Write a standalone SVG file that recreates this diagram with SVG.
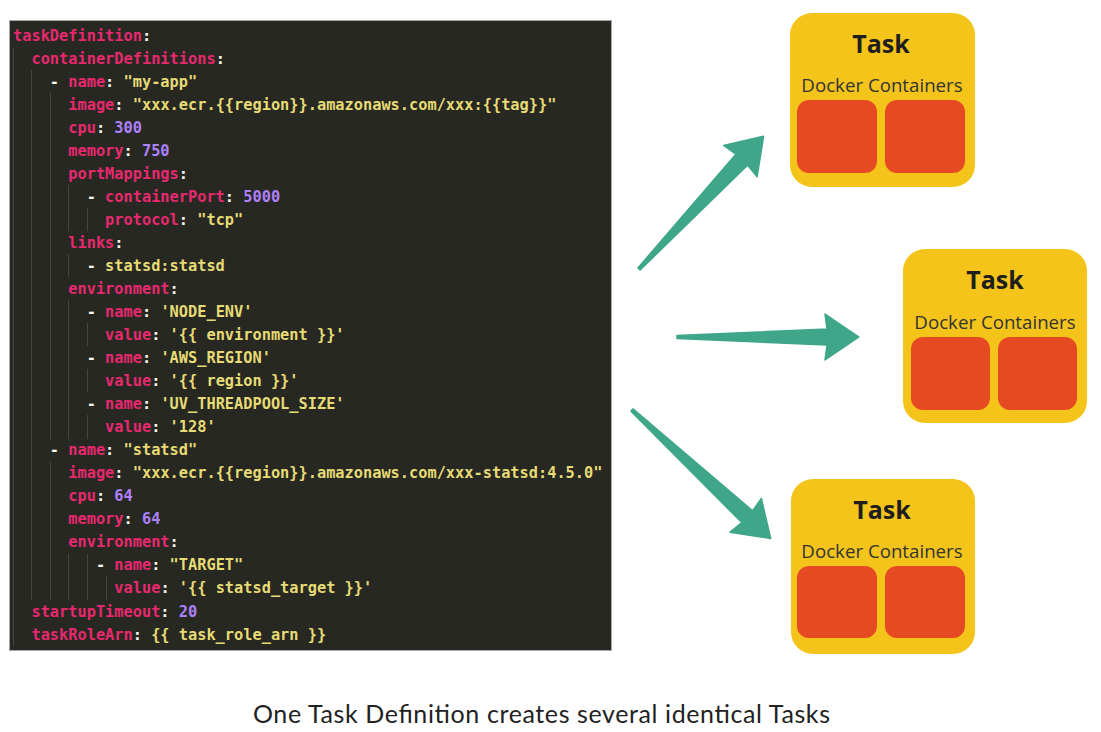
<svg xmlns="http://www.w3.org/2000/svg" width="1101" height="732" viewBox="0 0 1101 732">
<style>
.code text{font-family:"DejaVu Sans Mono","Liberation Mono",monospace;font-size:15.3px;font-weight:bold;white-space:pre;fill:#f8f8f2}
.k{fill:#e8286f}.s{fill:#e6db74}.n{fill:#ae81ff}.p{fill:#f8f8f2}
.guide{stroke:#45463f;stroke-width:1}
.task{fill:#f5c41b}
.ctr{fill:#e64a22}
.t1{font-family:"Open Sans","Noto Sans",sans-serif;font-weight:bold;font-size:25px;fill:#1e1e1e;text-anchor:middle}
.t2{font-family:"Open Sans","Noto Sans",sans-serif;font-size:18.7px;fill:#333;text-anchor:middle}
.arrow{fill:#3fa68a;stroke:#3fa68a;stroke-width:1.5;stroke-linejoin:round}
.cap{font-family:Lato,"Open Sans",sans-serif;font-size:25px;fill:#222}
</style>
<rect width="1101" height="732" fill="#ffffff"/>
<g id="code" class="code">
<rect x="9.5" y="20.5" width="602" height="630" fill="#272822" stroke="#a8a8a8" stroke-width="1"/>
<g id="guides">
<line class="guide" x1="13.5" y1="47" x2="13.5" y2="646"/>
<line class="guide" x1="31.5" y1="70" x2="31.5" y2="600"/>
<line class="guide" x1="50.5" y1="93" x2="50.5" y2="439"/>
<line class="guide" x1="50.5" y1="462" x2="50.5" y2="600"/>
<line class="guide" x1="68.5" y1="185" x2="68.5" y2="231"/>
<line class="guide" x1="68.5" y1="254" x2="68.5" y2="277"/>
<line class="guide" x1="68.5" y1="300" x2="68.5" y2="439"/>
<line class="guide" x1="68.5" y1="554" x2="68.5" y2="600"/>
<line class="guide" x1="87.5" y1="208" x2="87.5" y2="231"/>
<line class="guide" x1="87.5" y1="323" x2="87.5" y2="346"/>
<line class="guide" x1="87.5" y1="369" x2="87.5" y2="392"/>
<line class="guide" x1="87.5" y1="415" x2="87.5" y2="439"/>
<line class="guide" x1="87.5" y1="554" x2="87.5" y2="600"/>
<line class="guide" x1="106.5" y1="577" x2="106.5" y2="600"/>
</g>
<text x="13" y="40.5"><tspan class="k">taskDefinition</tspan><tspan class="p">:</tspan></text>
<text x="13" y="63.5">  <tspan class="k">containerDefinitions</tspan><tspan class="p">:</tspan></text>
<text x="13" y="86.6">    <tspan class="p">- </tspan><tspan class="k">name</tspan><tspan class="p">: </tspan><tspan class="s">"my-app"</tspan></text>
<text x="13" y="109.6">      <tspan class="k">image</tspan><tspan class="p">: </tspan><tspan class="s">"xxx.ecr.{{region}}.amazonaws.com/xxx:{{tag}}"</tspan></text>
<text x="13" y="132.7">      <tspan class="k">cpu</tspan><tspan class="p">: </tspan><tspan class="n">300</tspan></text>
<text x="13" y="155.7">      <tspan class="k">memory</tspan><tspan class="p">: </tspan><tspan class="n">750</tspan></text>
<text x="13" y="178.7">      <tspan class="k">portMappings</tspan><tspan class="p">:</tspan></text>
<text x="13" y="201.8">        <tspan class="p">- </tspan><tspan class="k">containerPort</tspan><tspan class="p">: </tspan><tspan class="n">5000</tspan></text>
<text x="13" y="224.8">          <tspan class="k">protocol</tspan><tspan class="p">: </tspan><tspan class="s">"tcp"</tspan></text>
<text x="13" y="247.9">      <tspan class="k">links</tspan><tspan class="p">:</tspan></text>
<text x="13" y="270.9">        <tspan class="p">- </tspan><tspan class="s">statsd:statsd</tspan></text>
<text x="13" y="293.9">      <tspan class="k">environment</tspan><tspan class="p">:</tspan></text>
<text x="13" y="317">        <tspan class="p">- </tspan><tspan class="k">name</tspan><tspan class="p">: </tspan><tspan class="s">'NODE_ENV'</tspan></text>
<text x="13" y="340">          <tspan class="k">value</tspan><tspan class="p">: </tspan><tspan class="s">'{{ environment }}'</tspan></text>
<text x="13" y="363">        <tspan class="p">- </tspan><tspan class="k">name</tspan><tspan class="p">: </tspan><tspan class="s">'AWS_REGION'</tspan></text>
<text x="13" y="386.1">          <tspan class="k">value</tspan><tspan class="p">: </tspan><tspan class="s">'{{ region }}'</tspan></text>
<text x="13" y="409.1">        <tspan class="p">- </tspan><tspan class="k">name</tspan><tspan class="p">: </tspan><tspan class="s">'UV_THREADPOOL_SIZE'</tspan></text>
<text x="13" y="432.2">          <tspan class="k">value</tspan><tspan class="p">: </tspan><tspan class="s">'128'</tspan></text>
<text x="13" y="455.2">    <tspan class="p">- </tspan><tspan class="k">name</tspan><tspan class="p">: </tspan><tspan class="s">"statsd"</tspan></text>
<text x="13" y="478.2">      <tspan class="k">image</tspan><tspan class="p">: </tspan><tspan class="s">"xxx.ecr.{{region}}.amazonaws.com/xxx-statsd:4.5.0"</tspan></text>
<text x="13" y="501.3">      <tspan class="k">cpu</tspan><tspan class="p">: </tspan><tspan class="n">64</tspan></text>
<text x="13" y="524.3">      <tspan class="k">memory</tspan><tspan class="p">: </tspan><tspan class="n">64</tspan></text>
<text x="13" y="547.4">      <tspan class="k">environment</tspan><tspan class="p">:</tspan></text>
<text x="13" y="570.4">         <tspan class="p">- </tspan><tspan class="k">name</tspan><tspan class="p">: </tspan><tspan class="s">"TARGET"</tspan></text>
<text x="13" y="593.4">           <tspan class="k">value</tspan><tspan class="p">: </tspan><tspan class="s">'{{ statsd_target }}'</tspan></text>
<text x="13" y="616.5">  <tspan class="k">startupTimeout</tspan><tspan class="p">: </tspan><tspan class="n">20</tspan></text>
<text x="13" y="639.5">  <tspan class="k">taskRoleArn</tspan><tspan class="p">: </tspan><tspan class="s">{{ task_role_arn }}</tspan></text>
</g>
<g id="connectors">
<path class="arrow" transform="translate(639,269) rotate(-46.8)" d="M0,-1.5 L150,-8 L148,-23 L182,0 L148,23 L150,8 L0,1.5 Z"/>
<path class="arrow" transform="translate(677,337)" d="M0,-1.5 L150,-8 L148,-23 L182,0 L148,23 L150,8 L0,1.5 Z"/>
<path class="arrow" transform="translate(632,410) rotate(42.8)" d="M0,-1.5 L157,-8 L155,-23 L189,0 L155,23 L157,8 L0,1.5 Z"/>
</g>
<g id="task1">
<rect class="task" x="790" y="13" width="185" height="174" rx="22"/>
<text class="t1" x="881" y="53">Task</text>
<text class="t2" x="882" y="92">Docker Containers</text>
<rect class="ctr" x="797" y="100" width="80" height="73" rx="12"/>
<rect class="ctr" x="885" y="100" width="80" height="73" rx="12"/>
</g>
<g id="task2">
<rect class="task" x="903" y="249" width="184" height="174" rx="22"/>
<text class="t1" x="995" y="289">Task</text>
<text class="t2" x="995" y="329">Docker Containers</text>
<rect class="ctr" x="911" y="337" width="79" height="73" rx="12"/>
<rect class="ctr" x="998" y="337" width="79" height="73" rx="12"/>
</g>
<g id="task3">
<rect class="task" x="791" y="479" width="184" height="175" rx="22"/>
<text class="t1" x="882" y="519">Task</text>
<text class="t2" x="882" y="558">Docker Containers</text>
<rect class="ctr" x="797" y="566" width="80" height="72" rx="12"/>
<rect class="ctr" x="885" y="566" width="80" height="72" rx="12"/>
</g>
<g id="caption">
<text class="cap" x="253" y="723" textLength="577" lengthAdjust="spacing">One Task Definition creates several identical Tasks</text>
</g>
</svg>
